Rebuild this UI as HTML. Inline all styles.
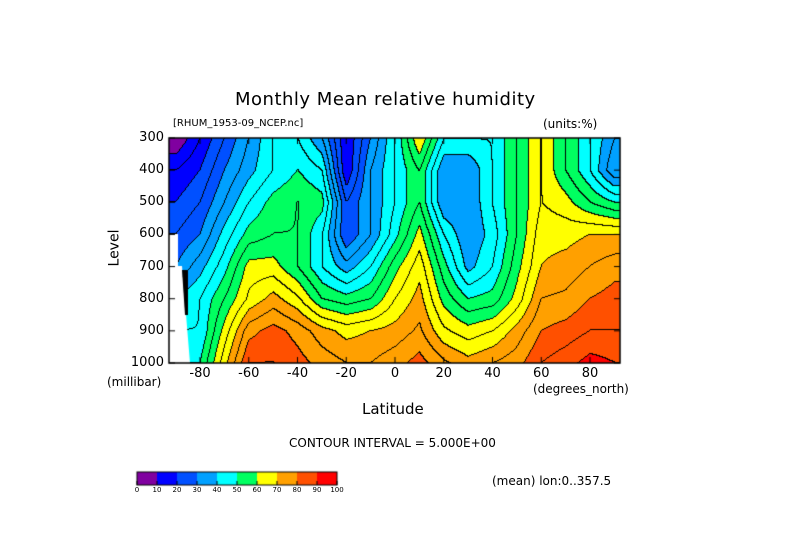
<!DOCTYPE html>
<html><head><meta charset="utf-8"><style>
body{margin:0;background:#fff;}
#wrap{position:relative;width:789px;height:558px;overflow:hidden;font-family:"DejaVu Sans","Liberation Sans",sans-serif;color:#000;}
.t{position:absolute;white-space:nowrap;}
canvas{position:absolute;left:0;top:0;}
</style></head><body>
<div id="wrap">
<canvas id="cv" width="789" height="558"></canvas>
<div class="t" style="left:235px;top:89px;font-size:18px;letter-spacing:0.5px;">Monthly Mean relative humidity</div>
<div class="t" style="left:173px;top:118px;font-size:10px;">[RHUM_1953-09_NCEP.nc]</div>
<div class="t" style="left:543px;top:117px;font-size:12px;">(units:%)</div>
<div class="t" style="left:96px;top:240px;font-size:14px;transform:rotate(-90deg);">Level</div>
<div class="t" style="left:107px;top:375px;font-size:12px;">(millibar)</div>
<div class="t" style="left:362px;top:400px;font-size:15px;">Latitude</div>
<div class="t" style="left:533px;top:382px;font-size:12px;">(degrees_north)</div>
<div class="t" style="left:289px;top:436px;font-size:12px;">CONTOUR INTERVAL = 5.000E+00</div>
<div class="t" style="left:492px;top:474px;font-size:12px;">(mean) lon:0..357.5</div>
<div id="labels"></div>
</div>
<script>
const lats=[-90,-80,-70,-60,-50,-40,-30,-20,-10,0,10,20,30,40,50,60,70,80,90];
const levels=[300,400,500,600,700,800,900,1000];
const rh300=[5,15,25,35,45,45,35,15,30,45,65,45,45,45,55,65,55,45,35];
const rh400=[15,20,30,38,45,50,45,15,35,45,55,35,35,45,55,65,55,45,30];
const rh500=[20,25,35,45,52,55,52,25,35,45,55,35,35,45,55,65,62,55,50];
const rh600=[25,30,42,52,55,55,45,25,35,48,62,45,35,42,55,68,68,70,70];
const rh700=[30,38,48,62,62,55,45,37,45,58,68,52,38,45,58,70,72,75,78];
const rh800=[40,45,55,66,72,66,55,52,55,65,72,58,50,52,62,75,76,80,82];
const rh900=[45,45,62,78,82,78,72,68,70,72,76,66,62,65,72,80,82,85,85];
const rh1000=[50,50,68,85,85,82,78,75,75,78,82,76,72,75,78,85,88,92,90];
const grid=[rh300,rh400,rh500,rh600,rh700,rh800,rh900,rh1000];
const binColors=['#8000a0','#0000ff','#0050ff','#00a0ff','#00ffff','#00ff60','#ffff00','#ffa000','#ff5000','#ff0000'];
const cbTicks=['0','10','20','30','40','50','60','70','80','90','100'];
const yTicks=[300,400,500,600,700,800,900,1000];
const xTicks=[-80,-60,-40,-20,0,20,40,60,80];

const L=169,R=620,T=138,B=363;
const xS=v=>395+2.4375*v;
const yS=p=>T+(p-300)*(B-T)/700;
const latOf=x=>(x-395)/2.4375;
const levOf=y=>300+(y-T)*700/(B-T);
function val(lat,lev){
  let la=Math.max(-90,Math.min(90,lat)),le=Math.max(300,Math.min(1000,lev));
  let i=Math.min(lats.length-2,Math.floor((la+90)/10)),j=Math.min(levels.length-2,Math.floor((le-300)/100));
  let fx=(la-lats[i])/10,fy=(le-levels[j])/100;
  let a=grid[j][i],b=grid[j][i+1],c=grid[j+1][i],d=grid[j+1][i+1];
  return a*(1-fx)*(1-fy)+b*fx*(1-fy)+c*(1-fx)*fy+d*fx*fy+0.137;
}
const cv=document.getElementById('cv'),ctx=cv.getContext('2d');
const W=R-L,H=B-T;
const vals=[];
for(let y=0;y<=H;y++){vals.push([]);for(let x=0;x<=W;x++)vals[y].push(val(latOf(L+x),levOf(T+y)));}
const img=ctx.createImageData(W,H);
function hex(c){return [parseInt(c.substr(1,2),16),parseInt(c.substr(3,2),16),parseInt(c.substr(5,2),16)];}
const rgb=binColors.map(hex);
for(let y=0;y<H;y++)for(let x=0;x<W;x++){
  const v=vals[y][x];let c=rgb[Math.max(0,Math.min(9,Math.floor(v/10)))];
  const k=Math.floor(v/5);
  if(Math.floor(vals[y][x+1]/5)!==k||Math.floor(vals[y+1][x]/5)!==k)c=[0,0,0];
  const o=(y*W+x)*4;img.data[o]=c[0];img.data[o+1]=c[1];img.data[o+2]=c[2];img.data[o+3]=255;
}
ctx.putImageData(img,L,T);
ctx.fillStyle='#fff';ctx.beginPath();ctx.moveTo(L,234);ctx.lineTo(178,234);ctx.lineTo(178,266);ctx.lineTo(182,266);ctx.lineTo(190,B);ctx.lineTo(L,B);ctx.closePath();ctx.fill();
ctx.fillStyle='#000';ctx.beginPath();ctx.moveTo(182,270);ctx.lineTo(188,270);ctx.lineTo(188,315);ctx.lineTo(185,315);ctx.closePath();ctx.fill();
ctx.strokeStyle='#000';ctx.lineWidth=1.5;ctx.strokeRect(L,T,W,H);
ctx.lineWidth=1;
const lab=document.getElementById('labels');
function addText(txt,x,y,size,name){const d=document.createElement('div');d.className='t';d.textContent=txt;d.style.left=x+'px';d.style.top=y+'px';d.style.fontSize=size+'px';


lab.appendChild(d);return d;}
yTicks.forEach(p=>{const y=yS(p);ctx.beginPath();ctx.moveTo(L,y);ctx.lineTo(L+6,y);ctx.moveTo(R,y);ctx.lineTo(R-6,y);ctx.stroke();
 const d=addText(String(p),0,y-8,13,'y-tick-label');d.style.width='164px';d.style.textAlign='right';d.style.left='0px';});
xTicks.forEach(v=>{const x=xS(v);ctx.beginPath();ctx.moveTo(x,B);ctx.lineTo(x,B-6);ctx.moveTo(x,T);ctx.lineTo(x,T+6);ctx.stroke();
 const d=addText(String(v),x-25,366,13,'x-tick-label');d.style.width='50px';d.style.textAlign='center';});
const cbL=137,cbT=472,cbW=200,cbH=13;
binColors.forEach((c,i)=>{ctx.fillStyle=c;ctx.fillRect(cbL+i*cbW/10,cbT,cbW/10,cbH);});
ctx.strokeRect(cbL,cbT,cbW,cbH);
cbTicks.forEach((t,i)=>{const x=cbL+i*cbW/10;ctx.beginPath();ctx.moveTo(x,cbT+cbH);ctx.lineTo(x,cbT+cbH-4);ctx.stroke();
 const d=addText(t,x-10,cbT+cbH+1,7,'colorbar-tick-label');d.style.width='20px';d.style.textAlign='center';});
</script>
</body></html>
